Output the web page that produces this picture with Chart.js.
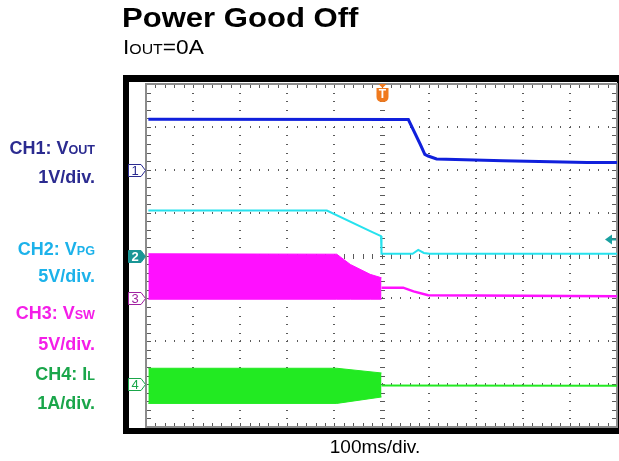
<!DOCTYPE html>
<html>
<head>
<meta charset="utf-8">
<title>Power Good Off</title>
<script src="https://cdn.jsdelivr.net/npm/chart.js@4.4.1/dist/chart.umd.min.js"></script>
<style>
  body { margin: 0; background: #fff; font-family: "Liberation Sans", Arial, sans-serif; }
  #wrap { position: relative; width: 619px; height: 461px; overflow: hidden; }
  #scope { position: absolute; left: 0; top: 0; }
  .lbl { position: absolute; white-space: nowrap; line-height: 20px; }
  .side { right: 524px; font-weight: bold; font-size: 18px; text-align: right; }
  .sm { font-size: 70%; }
</style>
</head>
<body>
<div id="wrap">
  <canvas id="scope" width="619" height="461"></canvas>
  <div class="lbl" style="left:122px; top:3px; font-size:27px; line-height:30px; font-weight:bold; transform:scaleX(1.15); transform-origin:left;">Power Good Off</div>
  <div class="lbl" style="left:123px; top:35px; font-size:21px; line-height:24px; transform:scaleX(1.08); transform-origin:left;">I<span class="sm">OUT</span>=0A</div>

  <div class="lbl side" style="top:138px; color:#2b2b90;">CH1: V<span class="sm">OUT</span></div>
  <div class="lbl side" style="top:167px; color:#2b2b90;">1V/div.</div>
  <div class="lbl side" style="top:239px; color:#1cb2ea;">CH2: V<span class="sm">PG</span></div>
  <div class="lbl side" style="top:266px; color:#1cb2ea;">5V/div.</div>
  <div class="lbl side" style="top:303px; color:#f41ee8;">CH3: V<span class="sm">SW</span></div>
  <div class="lbl side" style="top:334px; color:#f41ee8;">5V/div.</div>
  <div class="lbl side" style="top:364px; color:#1aa64a;">CH4: I<span class="sm">L</span></div>
  <div class="lbl side" style="top:393px; color:#1aa64a;">1A/div.</div>

  <div class="lbl" style="left:275px; width:200px; text-align:center; top:436px; font-size:19px; line-height:22px;">100ms/div.</div>
</div>

<script>
// time in ms (100 ms/div, trigger at 0), amplitudes in each channel's own unit
const chScale  = [1, 5, 5, 1];      // V/div, V/div, V/div, A/div
const chOffset = [2, 0, -1, -3];    // ground marker position in divisions
const chColor  = ['#1020dc', '#26e2ee', '#ff10ff', '#22ea22'];

// CH1 VOUT
const voutT = [-495, 57, 82, 92, 99, 117, 258, 436, 500];
const voutV = [1.18, 1.17, 0.60, 0.36, 0.32, 0.25, 0.21, 0.17, 0.17];

// CH2 VPG
const vpgT = [-495, -116, -24, -1, 0, 66, 78, 90, 102, 500];
const vpgV = [5.25, 5.25, 2.84, 2.26, 0.2, 0.2, 0.65, 0.3, 0.2, 0.2];
const trigLevel = 1.9;

// CH3 VSW, switching envelope then the settled tail
const vswEnvT = [-495, -95, -66, -24, 0];
const vswTop  = [5.2, 5.15, 3.95, 2.8, 2.4];
const vswBot  = [-0.1, -0.1, -0.1, -0.1, -0.1];
const vswTailT = [0, 46, 68, 99, 500];
const vswTailV = [1.25, 1.25, 0.82, 0.36, 0.24];

// CH4 IL, ripple envelope then the settled tail
const ilEnvT = [-495, -95, 0];
const ilTop  = [0.37, 0.37, 0.26];
const ilBot  = [-0.45, -0.45, -0.3];
const ilTailT = [0, 500];
const ilTailV = [-0.03, -0.04];

function toDiv(ch, ts, vs) {
  return ts.map((t, i) => ({ x: t, y: chOffset[ch] + vs[i] / chScale[ch] }));
}

function trace(ch, ts, vs, width, fill) {
  return {
    data: toDiv(ch, ts, vs),
    borderColor: chColor[ch],
    backgroundColor: chColor[ch],
    borderWidth: width,
    fill: fill || false,
    pointRadius: 0,
    tension: 0
  };
}

// frame + graticule under the traces, markers on top
const graticule = {
  id: 'graticule',
  beforeDraw(chart) {
    const ctx = chart.ctx;
    const a = chart.chartArea;
    ctx.save();
    ctx.fillStyle = '#fff';
    ctx.fillRect(0, 0, chart.width, chart.height);
    ctx.fillStyle = '#000';
    ctx.fillRect(a.left - 23, a.top - 9, a.right - a.left + 25, a.bottom - a.top + 16);
    ctx.fillStyle = '#fff';
    ctx.fillRect(a.left - 17, a.top - 2, a.right - a.left + 17, a.bottom - a.top + 3);
    ctx.restore();
  },
  beforeDatasetsDraw(chart) {
    const ctx = chart.ctx;
    const a = chart.chartArea;
    const xs = chart.scales.x, ys = chart.scales.y;
    ctx.save();
    ctx.fillStyle = '#5a5a5a';
    // vertical dotted lines
    for (let i = 1; i < 10; i++) {
      const px = Math.round(xs.getPixelForValue(-500 + i * 100));
      for (let j = 1; j < 40; j++) {
        const py = Math.round(ys.getPixelForValue(-4 + j * 0.2));
        if (i === 5) ctx.fillRect(px - 2, py, 5, 1);
        else ctx.fillRect(px - 1, py, 2, 1);
      }
    }
    // horizontal dotted lines
    for (let i = 1; i < 8; i++) {
      const py = Math.round(ys.getPixelForValue(-4 + i));
      for (let j = 1; j < 50; j++) {
        const px = Math.round(xs.getPixelForValue(-500 + j * 20));
        if (i === 4) ctx.fillRect(px, py - 2, 1, 5);
        else ctx.fillRect(px, py - 1, 1, 2);
      }
    }
    // edge ticks
    for (let j = 1; j < 50; j++) {
      const px = Math.round(xs.getPixelForValue(-500 + j * 20));
      ctx.fillRect(px, a.top, 1, 4);
      ctx.fillRect(px, a.bottom - 4, 1, 4);
    }
    for (let j = 1; j < 40; j++) {
      const py = Math.round(ys.getPixelForValue(-4 + j * 0.2));
      ctx.fillRect(a.left, py, 5, 1);
      ctx.fillRect(a.right - 5, py, 5, 1);
    }
    // border
    ctx.strokeStyle = '#8c8c8c';
    ctx.lineWidth = 2;
    ctx.strokeRect(a.left, a.top, a.right - a.left, a.bottom - a.top);
    ctx.restore();
  },
  afterDatasetsDraw(chart) {
    const ctx = chart.ctx;
    const a = chart.chartArea;
    const xs = chart.scales.x, ys = chart.scales.y;
    ctx.save();
    ctx.textAlign = 'center';
    ctx.textBaseline = 'middle';
    // channel ground markers
    const marks = [
      { fill: '#fff', line: '#2b2b90', txt: '#2b2b90' },
      { fill: '#1a9696', line: '#1a9696', txt: '#fff' },
      { fill: '#fff', line: '#a020a0', txt: '#a020a0' },
      { fill: '#fff', line: '#1aa64a', txt: '#1aa64a' }
    ];
    marks.forEach((m, i) => {
      const py = Math.round(ys.getPixelForValue(chOffset[i])) + 0.5;
      const x0 = a.left - 17.5, x1 = a.left - 5, x2 = a.left - 0.5;
      ctx.beginPath();
      ctx.moveTo(x0, py - 6);
      ctx.lineTo(x1, py - 6);
      ctx.lineTo(x2, py);
      ctx.lineTo(x1, py + 6);
      ctx.lineTo(x0, py + 6);
      ctx.closePath();
      ctx.fillStyle = m.fill;
      ctx.fill();
      ctx.strokeStyle = m.line;
      ctx.lineWidth = 1;
      ctx.stroke();
      ctx.fillStyle = m.txt;
      ctx.font = (i === 1 ? 'bold ' : '') + '13px "Liberation Sans", Arial, sans-serif';
      ctx.fillText(String(i + 1), x0 + 6.5, py + 1);
    });
    // trigger position marker
    const tx = Math.round(xs.getPixelForValue(0)) + 0.5;
    ctx.fillStyle = '#f07a1e';
    ctx.beginPath();
    ctx.moveTo(tx - 4, a.top);
    ctx.lineTo(tx + 4, a.top);
    ctx.lineTo(tx, a.top + 4);
    ctx.closePath();
    ctx.fill();
    ctx.beginPath();
    ctx.moveTo(tx - 6, a.top + 4);
    ctx.lineTo(tx + 6, a.top + 4);
    ctx.lineTo(tx + 6, a.top + 13);
    ctx.quadraticCurveTo(tx + 6, a.top + 18, tx, a.top + 18);
    ctx.quadraticCurveTo(tx - 6, a.top + 18, tx - 6, a.top + 13);
    ctx.closePath();
    ctx.fill();
    ctx.fillStyle = '#fff';
    ctx.font = 'bold 12px "Liberation Sans", Arial, sans-serif';
    ctx.fillText('T', tx, a.top + 11);
    // trigger level arrow on CH2
    const ly = Math.round(ys.getPixelForValue(chOffset[1] + trigLevel / chScale[1])) + 0.5;
    ctx.fillStyle = '#1aa0a0';
    ctx.beginPath();
    ctx.moveTo(a.right - 12, ly);
    ctx.lineTo(a.right - 5, ly - 5);
    ctx.lineTo(a.right - 5, ly + 5);
    ctx.closePath();
    ctx.fill();
    ctx.fillRect(a.right - 5, ly - 1, 4, 2);
    ctx.restore();
  }
};

const datasets = [
  trace(2, vswEnvT, vswTop, 1, '+1'),
  trace(2, vswEnvT, vswBot, 1),
  trace(2, vswTailT, vswTailV, 2.5),
  trace(3, ilEnvT, ilTop, 1, '+1'),
  trace(3, ilEnvT, ilBot, 1),
  trace(3, ilTailT, ilTailV, 2),
  trace(1, vpgT, vpgV, 2),
  trace(0, voutT, voutV, 3)
];

new Chart(document.getElementById('scope'), {
  type: 'line',
  data: { datasets: datasets },
  options: {
    responsive: false,
    animation: false,
    layout: { padding: { left: 146, top: 84, right: 2, bottom: 34 } },
    scales: {
      x: { type: 'linear', min: -500, max: 500, display: false },
      y: { min: -4, max: 4, display: false }
    },
    plugins: { legend: { display: false }, tooltip: { enabled: false } }
  },
  plugins: [graticule]
});
</script>
</body>
</html>
